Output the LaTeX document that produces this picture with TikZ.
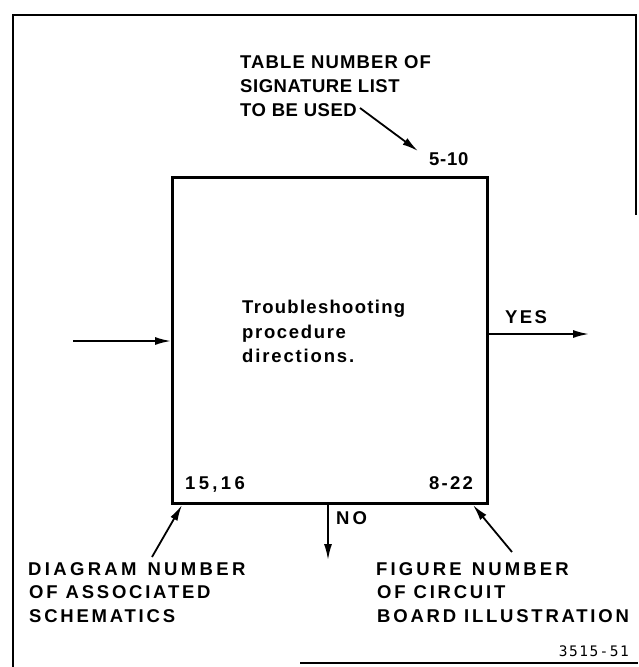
\documentclass[tikz,border=0pt]{standalone}
\usepackage{fontspec}
\usetikzlibrary{arrows.meta}
\newfontfamily\labfont{Liberation Sans Bold}
\newfontfamily\codefont[LetterSpace=10]{DejaVu Sans Mono}
\newcommand{\wsp}[1]{\hspace{#1pt}}
\tikzset{
  lab/.style={inner sep=0pt, anchor=base west, font=\labfont\fontsize{18.5}{22}\selectfont\addfontfeatures{LetterSpace=#1}},
  lab/.default=10,
  code/.style={inner sep=0pt, anchor=base east, font=\codefont\fontsize{14.5}{17}\selectfont},
  frameline/.style={line width=1.8pt},
  boxline/.style={line width=2.8pt},
  arr/.style={line width=1.8pt, -{Latex[length=16pt,width=8pt]}},
}
\begin{document}
\begin{tikzpicture}[x=1pt,y=-1pt]
\useasboundingbox (0,0) rectangle (638,667);
% outer frame (partially printed)
\draw[frameline] (13,667) -- (13,15) -- (636,15) -- (636,215);
\draw[frameline] (300,663) -- (638,663);
% main box
\node[draw, boxline, minimum width=315pt, minimum height=326pt, inner sep=0pt, anchor=north west] (box) at (171,176) {};
% title
\node[lab=6] (t1) at (240,68) {TABLE NUMBER OF};
\node[lab=3] (t2) at (240,92) {SIGNATURE LIST};
\node[lab=3] (t3) at (240,116) {TO BE USED};
\coordinate (t3end) at (360,108);
\coordinate (tabtip) at (418,151);
\draw[arr] (t3end) -- (tabtip);
\node[lab=4] (tab) at (429,165) {5-10};
% inside text
\node[lab=7] (c1) at (242,313) {Troubleshooting};
\node[lab=9] (c2) at (242,338) {procedure};
\node[lab=10] (c3) at (242,362) {directions.};
% input / output
\coordinate (instart) at (73,341);
\draw[arr] (instart) -- (box.west |- instart);
\coordinate (outend) at (589,334);
\draw[arr] (box.east |- outend) -- (outend);
\node[lab=13] (yes) at (505,323) {YES};
% corner numbers
\node[lab=18] (diag) at (185,489) {15,16};
\node[lab=12] (fig) at (429,489) {8-22};
% NO
\coordinate (noend) at (328,560);
\draw[arr] (box.south -| noend) -- (noend);
\node[lab=16] (no) at (336,524) {NO};
% bottom-left label
\node[lab=18] (b1) at (28,575) {DIAGRAM\wsp{11}NUMBER};
\node[lab=15] (b2) at (29,598) {OF\wsp{8}ASSOCIATED};
\node[lab=15] (b3) at (29,622) {SCHEMATICS};
\coordinate (bltail) at (152,557);
\coordinate (bltip) at (182,505);
\draw[arr] (bltail) -- (bltip);
% bottom-right label
\node[lab=17] (r1) at (376,575) {FIGURE\wsp{10}NUMBER};
\node[lab=15] (r2) at (377,598) {OF\wsp{8}CIRCUIT};
\node[lab=15] (r3) at (377,622) {BOARD\wsp{8}ILLUSTRATION};
\coordinate (brtail) at (512,552);
\coordinate (brtip) at (473,505);
\draw[arr] (brtail) -- (brtip);
% figure code
\node[code] (code) at (629,656) {3515-51};
\end{tikzpicture}
\end{document}
